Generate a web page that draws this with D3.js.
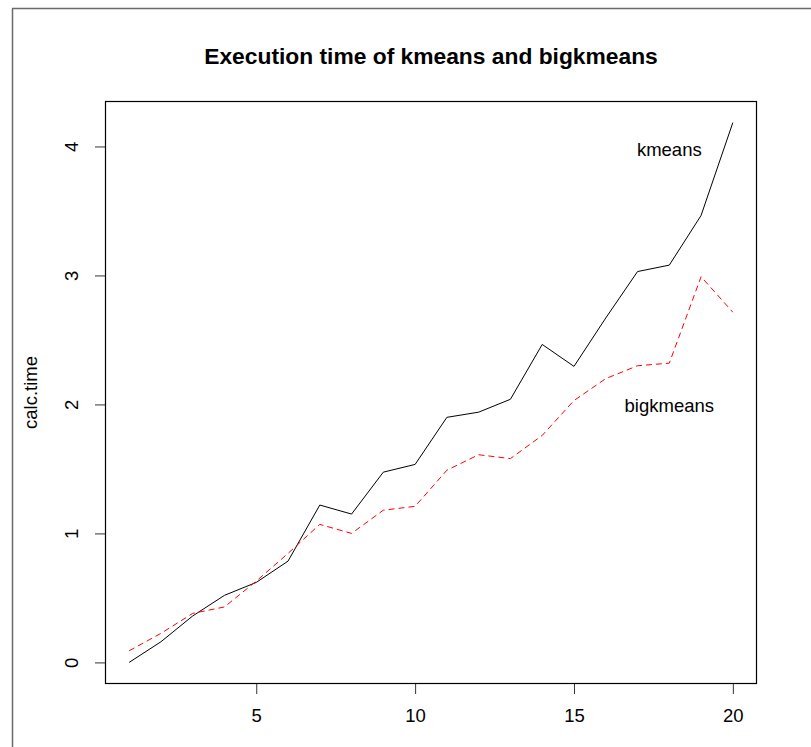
<!DOCTYPE html>
<html>
<head>
<meta charset="utf-8">
<script src="https://cdn.jsdelivr.net/npm/d3@7"></script>
<style>
  html, body { margin: 0; padding: 0; background: #fff; }
  svg { display: block; }
  text { font-family: "Liberation Sans", Arial, sans-serif; fill: #000; }
</style>
</head>
<body>
<svg id="chart" width="811" height="747"></svg>
<script>
const xValues = [1,2,3,4,5,6,7,8,9,10,11,12,13,14,15,16,17,18,19,20];
const kmeansTimes = [0.00,0.16,0.36,0.52,0.62,0.785,1.22,1.15,1.475,1.535,1.90,1.94,2.04,2.465,2.295,2.67,3.03,3.08,3.465,4.185];
const bigkmeansTimes = [0.09,0.225,0.38,0.43,0.63,0.845,1.07,1.00,1.18,1.21,1.49,1.61,1.58,1.76,2.03,2.20,2.30,2.32,2.99,2.715];
const xTicks = [5,10,15,20];
const yTicks = [0,1,2,3,4];
const titleText = "Execution time of kmeans and bigkmeans";
const yLabel = "calc.time";
const seriesLabels = [
  {text: "kmeans", x: 18.0, y: 3.98},
  {text: "bigkmeans", x: 18.0, y: 1.99}
];

(function () {
const svg = d3.select("#chart");
const pLeft = 105, pRight = 757, pTop = 101, pBottom = 684;
const fs = "18.5px";

// outer frame (screenshot border)
svg.append("line").attr("x1", 12.5).attr("x2", 12.5).attr("y1", 8.5).attr("y2", 747)
  .attr("stroke", "#6a6a6a").attr("stroke-width", 1.5);
svg.append("line").attr("x1", 12).attr("x2", 811).attr("y1", 8.5).attr("y2", 8.5)
  .attr("stroke", "#6a6a6a").attr("stroke-width", 1.5);

// R-style 4% extension
const xmin = d3.min(xValues), xmax = d3.max(xValues);
const allY = kmeansTimes.concat(bigkmeansTimes);
const ymin = d3.min(allY), ymax = d3.max(kmeansTimes);
const xp = (xmax - xmin) * 0.04, yp = (ymax - ymin) * 0.04;
const x = d3.scaleLinear().domain([xmin - xp, xmax + xp]).range([pLeft, pRight]);
const y = d3.scaleLinear().domain([ymin - yp, ymax + yp]).range([pBottom, pTop]);

// plot box
svg.append("rect").attr("x", pLeft + 0.5).attr("y", pTop + 0.5)
  .attr("width", pRight - pLeft - 1).attr("height", pBottom - pTop - 1)
  .attr("fill", "none").attr("stroke", "#000").attr("stroke-width", 1.2);

// x axis
const xAxis = svg.append("g").attr("transform", `translate(0,${pBottom})`)
  .call(d3.axisBottom(x).tickValues(xTicks).tickSize(10).tickPadding(15).tickFormat(d3.format("d")));
xAxis.select(".domain").remove();
xAxis.selectAll("line").attr("stroke", "#333");
xAxis.selectAll("text").attr("font-size", fs).attr("fill", "#000")
  .style("font-family", "'Liberation Sans', Arial, sans-serif");

// y axis
const yAxis = svg.append("g").attr("transform", `translate(${pLeft},0)`)
  .call(d3.axisLeft(y).tickValues(yTicks).tickSize(10).tickFormat(d3.format("d")));
yAxis.select(".domain").remove();
yAxis.selectAll("line").attr("stroke", "#333");
yAxis.selectAll("text").attr("font-size", fs).attr("fill", "#000")
  .style("font-family", "'Liberation Sans', Arial, sans-serif")
  .attr("x", null).attr("dy", null)
  .attr("text-anchor", "middle")
  .attr("transform", "translate(-34,0) rotate(-90)")
  .attr("dominant-baseline", "central");

// lines
const lineGen = vals => d3.line().x((d, i) => x(xValues[i])).y(d => y(d))(vals);
svg.append("path").attr("d", lineGen(kmeansTimes))
  .attr("fill", "none").attr("stroke", "#000").attr("stroke-width", 1);
svg.append("path").attr("d", lineGen(bigkmeansTimes))
  .attr("fill", "none").attr("stroke", "#ff0000").attr("stroke-width", 1)
  .attr("stroke-dasharray", "6,4");

// series labels
seriesLabels.forEach(l => {
  svg.append("text").attr("x", x(l.x)).attr("y", y(l.y))
    .attr("text-anchor", "middle").attr("dominant-baseline", "central")
    .attr("font-size", fs).text(l.text);
});

// title
svg.append("text").attr("x", (pLeft + pRight) / 2).attr("y", 56)
  .attr("text-anchor", "middle").attr("dominant-baseline", "central")
  .attr("font-size", "22.8px").attr("font-weight", "bold").text(titleText);

// y label
svg.append("text").attr("transform", `translate(30,${(pTop + pBottom) / 2}) rotate(-90)`)
  .attr("text-anchor", "middle").attr("dominant-baseline", "central")
  .attr("font-size", fs).text(yLabel);
})();
</script>
</body>
</html>
